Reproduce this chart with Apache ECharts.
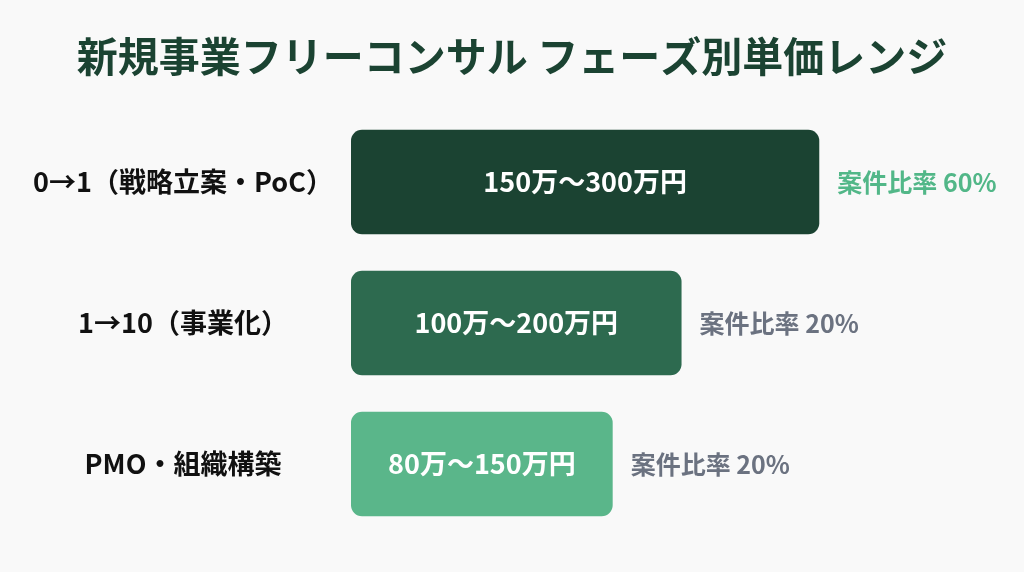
<!DOCTYPE html>
<html><head><meta charset="utf-8">
<script src="https://cdn.jsdelivr.net/npm/echarts@6/dist/echarts.min.js"></script>
<style>html,body{margin:0;padding:0;background:#f9f9f9;}#c{width:1024px;height:572px;}</style>
</head><body><div id="c"></div>
<script>
const title = '新規事業フリーコンサル フェーズ別単価レンジ';
const phases = ['0→1（戦略立案・PoC）', '1→10（事業化）', 'PMO・組織構築'];
const priceLow = [150, 100, 80];   // 万円
const priceHigh = [300, 200, 150]; // 万円
const shareRatio = [60, 20, 20];   // %
const barColors = ['#1b4332', '#2d6a4f', '#5ab68a'];
const shareColors = ['#52b788', '#6b7280', '#6b7280'];

const FONT = '"Noto Sans CJK JP", "Noto Sans", sans-serif';
const data = phases.map((p, i) => [i, priceLow[i], priceHigh[i], shareRatio[i]]);

const chart = echarts.init(document.getElementById('c'));
chart.setOption({
  backgroundColor: '#f9f9f9',
  title: {
    text: title, left: 'center', top: 31,
    textStyle: { fontFamily: FONT, fontSize: 41, fontWeight: 'bold', color: '#1b4332' }
  },
  grid: { left: 351, right: 67, top: 111.5, bottom: 37.5 },
  xAxis: { type: 'value', min: -40, max: 400, show: false },
  yAxis: {
    type: 'category', data: phases, inverse: true,
    axisLine: { show: false }, axisTick: { show: false }, splitLine: { show: false },
    axisLabel: { align: 'center', margin: 168, fontFamily: FONT, fontSize: 27, fontWeight: 'bold', color: '#111111' }
  },
  series: [{
    type: 'custom',
    data: data,
    encode: { x: 2, y: 0 },
    renderItem: function (params, api) {
      const idx = api.value(0);
      const end = api.coord([api.value(2), idx]);
      const x0 = params.coordSys.x;
      const h = api.size([0, 1])[1] * 0.74;
      const w = end[0] - x0;
      return {
        type: 'group',
        children: [
          { type: 'rect', shape: { x: x0, y: end[1] - h / 2, width: w, height: h, r: 11 },
            style: { fill: barColors[idx] } },
          { type: 'text', x: x0 + w / 2, y: end[1],
            style: { text: api.value(1) + '万～' + api.value(2) + '万円', fill: '#ffffff',
              align: 'center', verticalAlign: 'middle', font: 'bold 27px ' + FONT } },
          { type: 'text', x: end[0] + 18, y: end[1],
            style: { text: '案件比率 ' + api.value(3) + '%', fill: shareColors[idx],
              align: 'left', verticalAlign: 'middle', font: 'bold 25px ' + FONT } }
        ]
      };
    }
  }]
});
</script></body></html>
